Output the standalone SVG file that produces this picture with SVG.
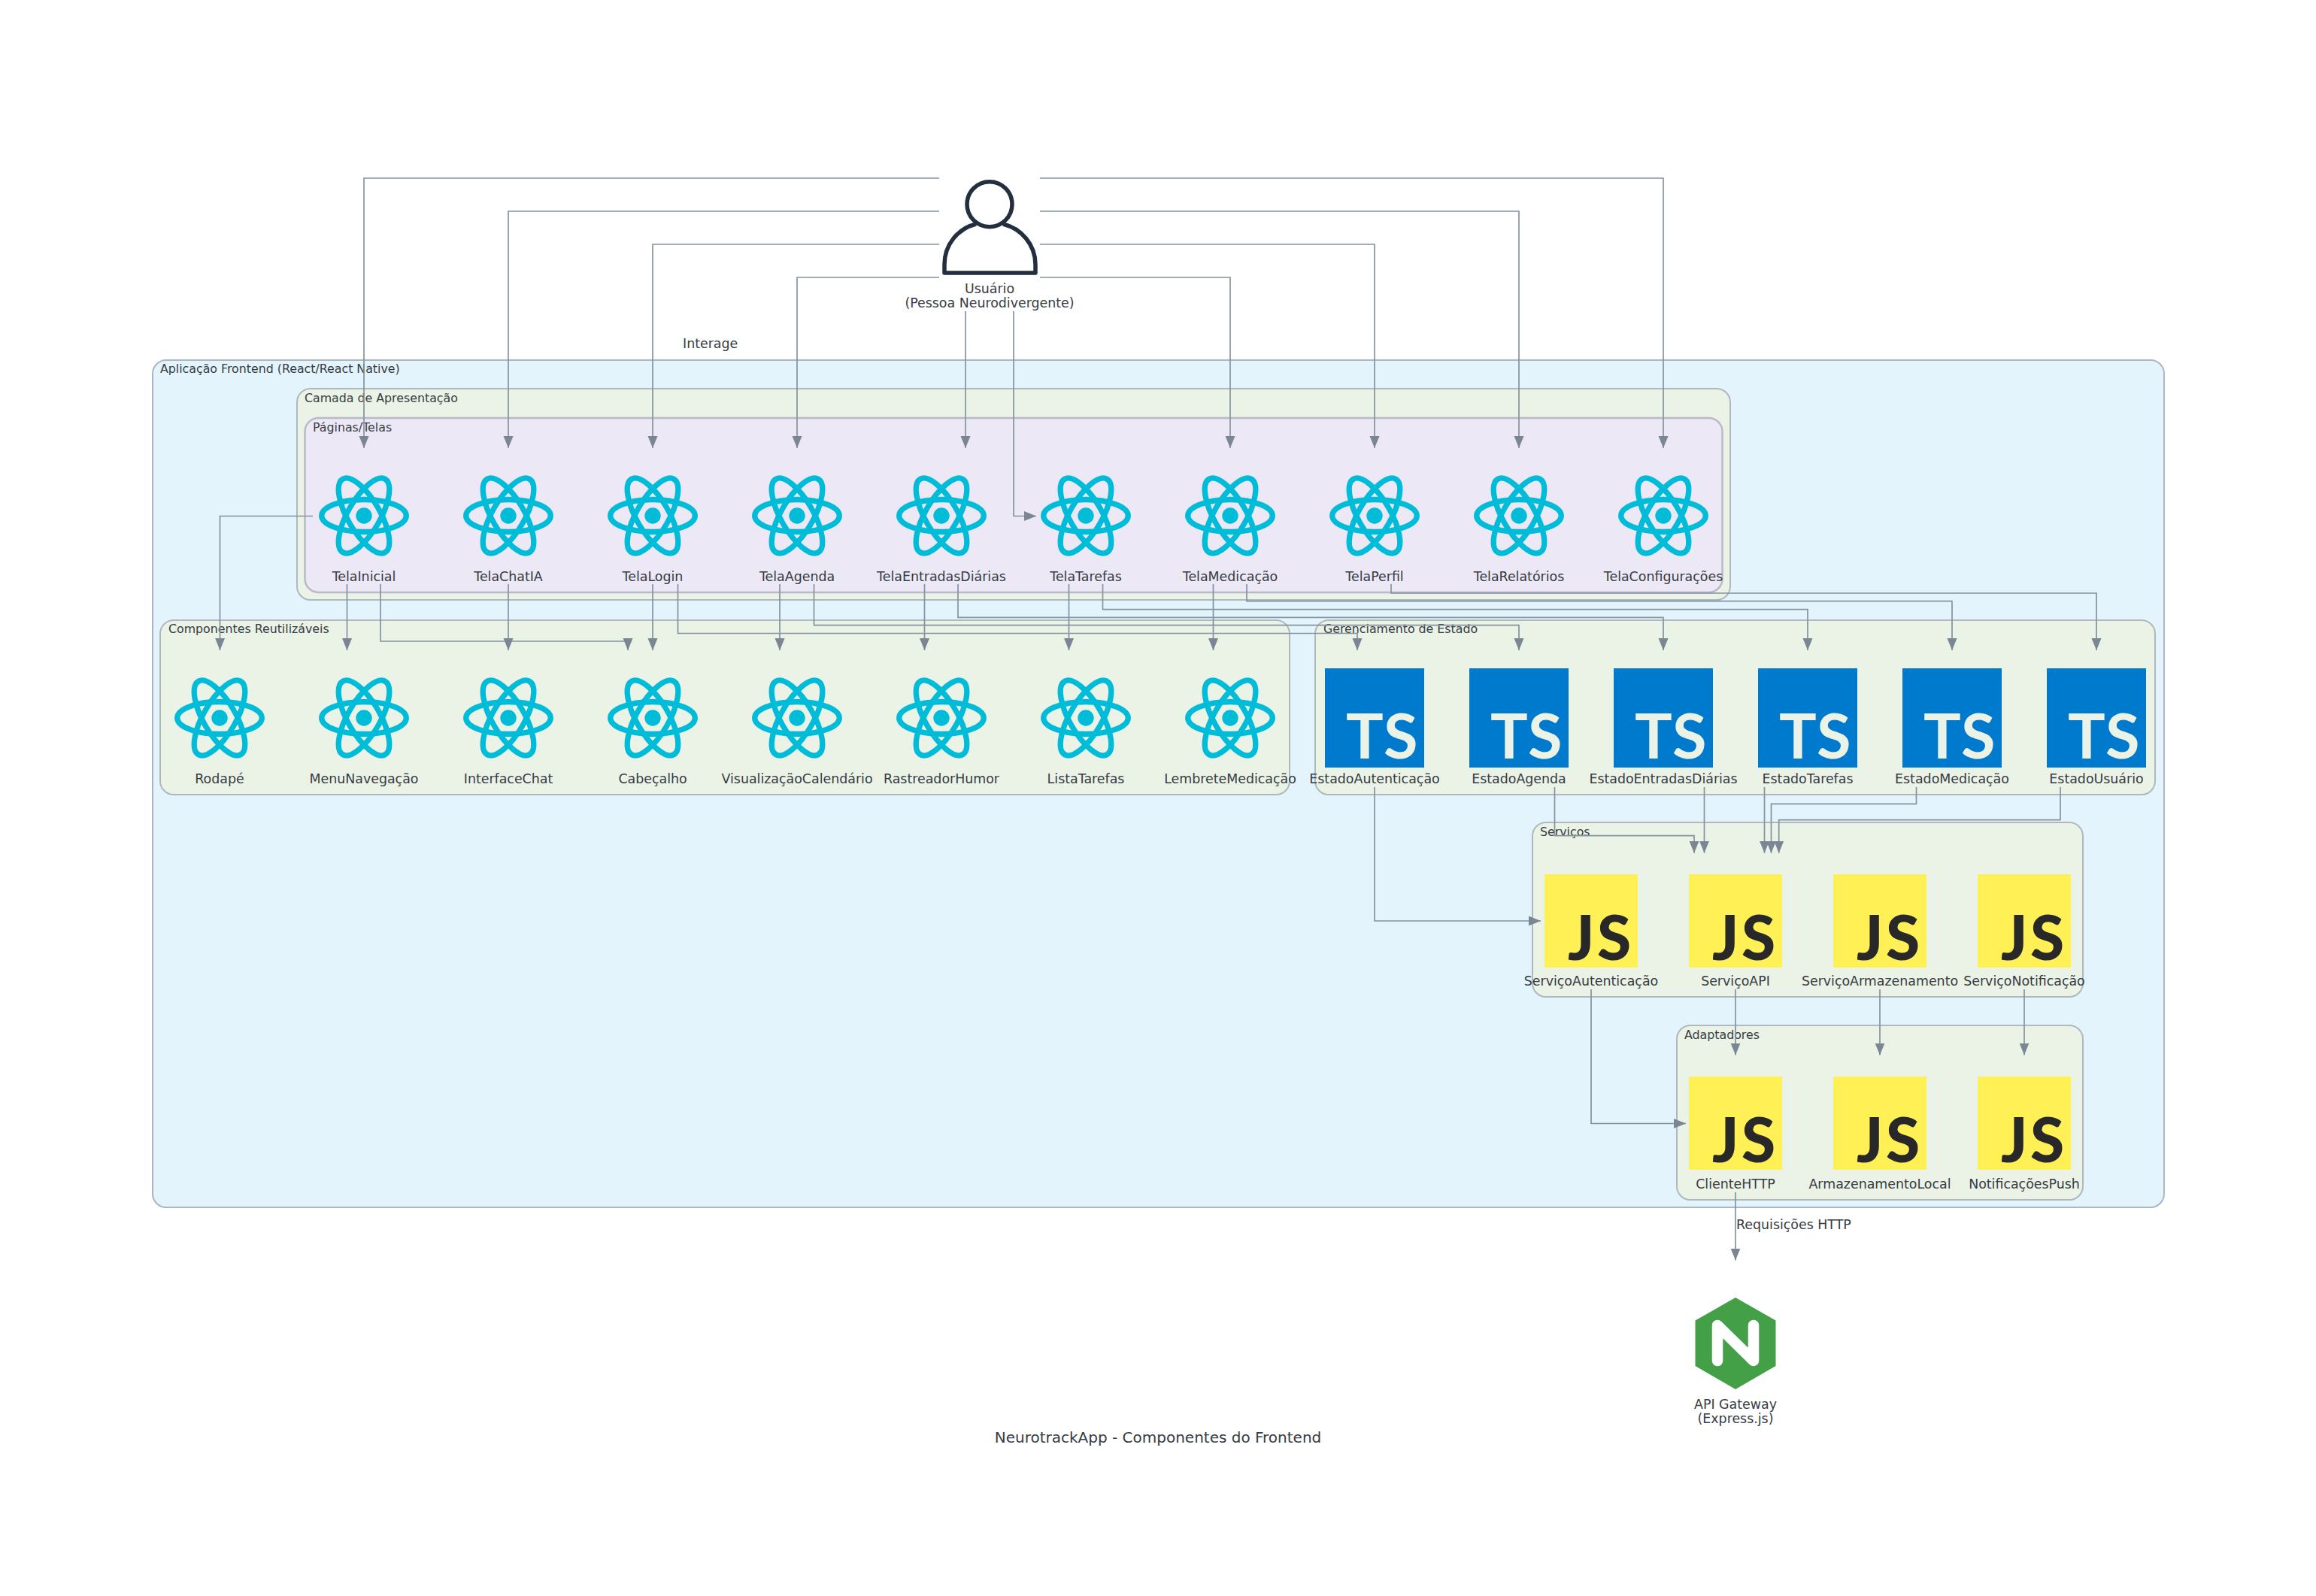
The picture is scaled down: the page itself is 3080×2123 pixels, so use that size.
<svg xmlns="http://www.w3.org/2000/svg" width="3080" height="2123" viewBox="0 0 3080 2123">
<style>
text{font-family:"DejaVu Sans",Verdana,sans-serif;fill:#363c44}
.lb{font-size:17.4px;text-anchor:middle}
.gl{font-size:15.8px}
.el{font-size:17.4px}
.outer{fill:#e3f4fc;stroke:#aab6c0;stroke-width:2}
.green{fill:#ebf2e6;stroke:#aeb8bd;stroke-width:2}
.purple{fill:#ece8f5;stroke:#b9b9c8;stroke-width:2.5}
.e{fill:none;stroke:#8593a1;stroke-width:1.7}
.tsb{fill:#007acc}
.jsb{fill:#fff056}
.ts{font-family:Lato,"DejaVu Sans",sans-serif;font-weight:700;font-size:83px;fill:#ebf2e6}
.js{font-family:Lato,"DejaVu Sans",sans-serif;font-weight:900;font-size:82px;fill:#282828}
</style>
<defs>
<marker id="a" markerUnits="userSpaceOnUse" markerWidth="16" markerHeight="14" refX="16" refY="7" orient="auto"><path d="M0,0.5L16,7L0,13.5Z" fill="#7a8694"/></marker>
<g id="react" fill="none" stroke="#00bcd8" stroke-width="7.3"><ellipse rx="56.3" ry="21.5"/><ellipse rx="56.3" ry="21.5" transform="rotate(60)"/><ellipse rx="56.3" ry="21.5" transform="rotate(120)"/><circle r="10.7" fill="#00bcd8" stroke="none"/></g>
</defs>
<rect width="3080" height="2123" fill="#fff"/>
<g id="groups">
<rect class="outer" x="203" y="479" width="2675" height="1127" rx="18"/>
<rect class="green" x="395" y="517" width="1906" height="281" rx="18"/>
<rect class="purple" x="405.500" y="556" width="1885" height="232" rx="18"/>
<rect class="green" x="213" y="825" width="1502" height="232" rx="18"/>
<rect class="green" x="1749" y="825" width="1117" height="232" rx="18"/>
<rect class="green" x="2038" y="1094" width="732" height="232" rx="18"/>
<rect class="green" x="2230" y="1364" width="540" height="232" rx="18"/>
<text class="gl" x="213" y="496">Aplicação Frontend (React/React Native)</text>
<text class="gl" x="405" y="535">Camada de Apresentação</text>
<text class="gl" x="416" y="574">Páginas/Telas</text>
<text class="gl" x="224" y="842">Componentes Reutilizáveis</text>
<text class="gl" x="1760" y="842">Gerenciamento de Estado</text>
<text class="gl" x="2048" y="1112">Serviços</text>
<text class="gl" x="2240" y="1382">Adaptadores</text>
</g>
<g id="connectors">
<path class="e" marker-end="url(#a)" d="M1249,237H484V596"/>
<path class="e" marker-end="url(#a)" d="M1249,281H676V596"/>
<path class="e" marker-end="url(#a)" d="M1249,325H868V596"/>
<path class="e" marker-end="url(#a)" d="M1249,369H1060V596"/>
<path class="e" marker-end="url(#a)" d="M1284,414V596"/>
<path class="e" marker-end="url(#a)" d="M1348,414V686.500H1378"/>
<path class="e" marker-end="url(#a)" d="M1383,369H1636V596"/>
<path class="e" marker-end="url(#a)" d="M1383,325H1828V596"/>
<path class="e" marker-end="url(#a)" d="M1383,281H2020V596"/>
<path class="e" marker-end="url(#a)" d="M1383,237H2212V596"/>
<path class="e" marker-end="url(#a)" d="M416,686.500H292.500V865"/>
<path class="e" marker-end="url(#a)" d="M461.500,777V865"/>
<path class="e" marker-end="url(#a)" d="M506,777V853H835V865"/>
<path class="e" marker-end="url(#a)" d="M676,777V865"/>
<path class="e" marker-end="url(#a)" d="M868,777V865"/>
<path class="e" marker-end="url(#a)" d="M901.500,777V842.500H1805V865"/>
<path class="e" marker-end="url(#a)" d="M1037,777V865"/>
<path class="e" marker-end="url(#a)" d="M1082.500,777V831.700H2020V865"/>
<path class="e" marker-end="url(#a)" d="M1229.500,777V865"/>
<path class="e" marker-end="url(#a)" d="M1274,777V821.300H2212V865"/>
<path class="e" marker-end="url(#a)" d="M1421.500,777V865"/>
<path class="e" marker-end="url(#a)" d="M1466.500,777V810.700H2404V865"/>
<path class="e" marker-end="url(#a)" d="M1613.500,777V865"/>
<path class="e" marker-end="url(#a)" d="M1658,777V799.700H2596V865"/>
<path class="e" marker-end="url(#a)" d="M1850,777V789H2788V865"/>
<path class="e" marker-end="url(#a)" d="M1828,1047V1225H2049"/>
<path class="e" marker-end="url(#a)" d="M2067.500,1047V1111.700H2253V1134.700"/>
<path class="e" marker-end="url(#a)" d="M2266.500,1047V1134.700"/>
<path class="e" marker-end="url(#a)" d="M2346.500,1047V1134.700"/>
<path class="e" marker-end="url(#a)" d="M2548.500,1047V1069.300H2355.500V1134.700"/>
<path class="e" marker-end="url(#a)" d="M2740,1047V1090.700H2365.700V1134.700"/>
<path class="e" marker-end="url(#a)" d="M2116,1316V1494.500H2242"/>
<path class="e" marker-end="url(#a)" d="M2308,1316V1403.500"/>
<path class="e" marker-end="url(#a)" d="M2500,1316V1403.500"/>
<path class="e" marker-end="url(#a)" d="M2692,1316V1403.500"/>
<path class="e" marker-end="url(#a)" d="M2308,1586V1676.500"/>
<text class="el" x="908" y="463">Interage</text>
<text class="el" x="2309" y="1635">Requisições HTTP</text>
</g>
<g id="usuario" fill="none" stroke="#232f3e" stroke-width="5.500" stroke-linejoin="round"><circle cx="1316" cy="271.700" r="30"/><path d="M1298,298C1274,304 1256,325 1256,352V363H1377V352C1377,325 1358,304 1334,298"/><text class="lb" x="1316" y="390" stroke="none">Usuário</text><text class="lb" x="1316" y="409" stroke="none">(Pessoa Neurodivergente)</text></g>
<g id="telaInicial"><use href="#react" x="484" y="686"/><text class="lb" x="484" y="773">TelaInicial</text></g>
<g id="telaChatIA"><use href="#react" x="676" y="686"/><text class="lb" x="676" y="773">TelaChatIA</text></g>
<g id="telaLogin"><use href="#react" x="868" y="686"/><text class="lb" x="868" y="773">TelaLogin</text></g>
<g id="telaAgenda"><use href="#react" x="1060" y="686"/><text class="lb" x="1060" y="773">TelaAgenda</text></g>
<g id="telaEntradasDiarias"><use href="#react" x="1252" y="686"/><text class="lb" x="1252" y="773">TelaEntradasDiárias</text></g>
<g id="telaTarefas"><use href="#react" x="1444" y="686"/><text class="lb" x="1444" y="773">TelaTarefas</text></g>
<g id="telaMedicacao"><use href="#react" x="1636" y="686"/><text class="lb" x="1636" y="773">TelaMedicação</text></g>
<g id="telaPerfil"><use href="#react" x="1828" y="686"/><text class="lb" x="1828" y="773">TelaPerfil</text></g>
<g id="telaRelatorios"><use href="#react" x="2020" y="686"/><text class="lb" x="2020" y="773">TelaRelatórios</text></g>
<g id="telaConfiguracoes"><use href="#react" x="2212" y="686"/><text class="lb" x="2212" y="773">TelaConfigurações</text></g>
<g id="rodape"><use href="#react" x="292" y="955"/><text class="lb" x="292" y="1042">Rodapé</text></g>
<g id="menuNavegacao"><use href="#react" x="484" y="955"/><text class="lb" x="484" y="1042">MenuNavegação</text></g>
<g id="interfaceChat"><use href="#react" x="676" y="955"/><text class="lb" x="676" y="1042">InterfaceChat</text></g>
<g id="cabecalho"><use href="#react" x="868" y="955"/><text class="lb" x="868" y="1042">Cabeçalho</text></g>
<g id="visualizacaoCalendario"><use href="#react" x="1060" y="955"/><text class="lb" x="1060" y="1042">VisualizaçãoCalendário</text></g>
<g id="rastreadorHumor"><use href="#react" x="1252" y="955"/><text class="lb" x="1252" y="1042">RastreadorHumor</text></g>
<g id="listaTarefas"><use href="#react" x="1444" y="955"/><text class="lb" x="1444" y="1042">ListaTarefas</text></g>
<g id="lembreteMedicacao"><use href="#react" x="1636" y="955"/><text class="lb" x="1636" y="1042">LembreteMedicação</text></g>
<g id="estadoAutenticacao"><rect class="tsb" x="1762" y="889" width="132" height="132"/><text class="ts" x="1790 1840" y="1009">TS</text><text class="lb" x="1828" y="1042">EstadoAutenticação</text></g>
<g id="estadoAgenda"><rect class="tsb" x="1954" y="889" width="132" height="132"/><text class="ts" x="1982 2032" y="1009">TS</text><text class="lb" x="2020" y="1042">EstadoAgenda</text></g>
<g id="estadoEntradasDiarias"><rect class="tsb" x="2146" y="889" width="132" height="132"/><text class="ts" x="2174 2224" y="1009">TS</text><text class="lb" x="2212" y="1042">EstadoEntradasDiárias</text></g>
<g id="estadoTarefas"><rect class="tsb" x="2338" y="889" width="132" height="132"/><text class="ts" x="2366 2416" y="1009">TS</text><text class="lb" x="2404" y="1042">EstadoTarefas</text></g>
<g id="estadoMedicacao"><rect class="tsb" x="2530" y="889" width="132" height="132"/><text class="ts" x="2558 2608" y="1009">TS</text><text class="lb" x="2596" y="1042">EstadoMedicação</text></g>
<g id="estadoUsuario"><rect class="tsb" x="2722" y="889" width="132" height="132"/><text class="ts" x="2750 2800" y="1009">TS</text><text class="lb" x="2788" y="1042">EstadoUsuário</text></g>
<g id="servicoAutenticacao"><rect class="jsb" x="2054" y="1163" width="124" height="124"/><text class="js" x="2085 2124" y="1277">JS</text><text class="lb" x="2116" y="1311">ServiçoAutenticação</text></g>
<g id="servicoAPI"><rect class="jsb" x="2246" y="1163" width="124" height="124"/><text class="js" x="2277 2316" y="1277">JS</text><text class="lb" x="2308" y="1311">ServiçoAPI</text></g>
<g id="servicoArmazenamento"><rect class="jsb" x="2438" y="1163" width="124" height="124"/><text class="js" x="2469 2508" y="1277">JS</text><text class="lb" x="2500" y="1311">ServiçoArmazenamento</text></g>
<g id="servicoNotificacao"><rect class="jsb" x="2630" y="1163" width="124" height="124"/><text class="js" x="2661 2700" y="1277">JS</text><text class="lb" x="2692" y="1311">ServiçoNotificação</text></g>
<g id="clienteHTTP"><rect class="jsb" x="2246" y="1432" width="124" height="124"/><text class="js" x="2277 2316" y="1546">JS</text><text class="lb" x="2308" y="1581">ClienteHTTP</text></g>
<g id="armazenamentoLocal"><rect class="jsb" x="2438" y="1432" width="124" height="124"/><text class="js" x="2469 2508" y="1546">JS</text><text class="lb" x="2500" y="1581">ArmazenamentoLocal</text></g>
<g id="notificacoesPush"><rect class="jsb" x="2630" y="1432" width="124" height="124"/><text class="js" x="2661 2700" y="1546">JS</text><text class="lb" x="2692" y="1581">NotificaçõesPush</text></g>
<g id="apiGateway"><polygon points="2308,1726 2361.500,1756.500 2361.500,1817 2308,1848 2254.500,1817 2254.500,1756.500" fill="#43a047"/><polyline points="2284,1810 2284,1763 2332,1810 2332,1763" fill="none" stroke="#fff" stroke-width="14.500" stroke-linecap="round" stroke-linejoin="round"/><text class="lb" x="2308" y="1874">API Gateway</text><text class="lb" x="2308" y="1893">(Express.js)</text></g>
<text id="title" x="1540" y="1919" text-anchor="middle" style="font-size:20px">NeurotrackApp - Componentes do Frontend</text>
</svg>
